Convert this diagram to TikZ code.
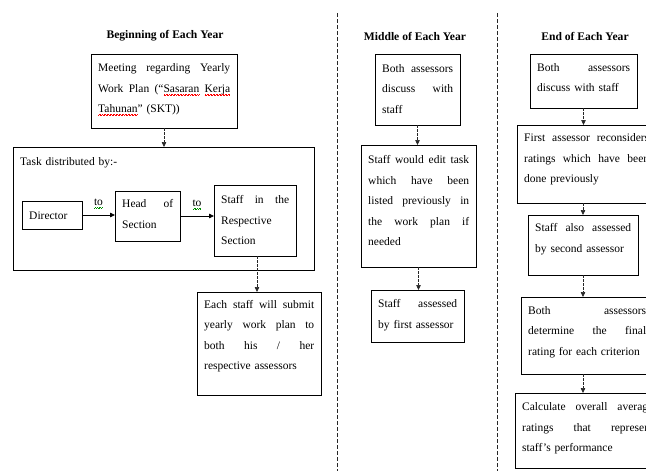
\documentclass[tikz,border=0pt]{standalone}
\usepackage{fontspec}
\setmainfont{Liberation Serif}
\usetikzlibrary{arrows.meta}
\newsavebox\sqbox
\newcommand\sqw[2]{\sbox\sqbox{#2}\mbox{\rlap{\usebox\sqbox}\textcolor{#1}{\xleaders\hbox{\rule[-3.3pt]{0.75pt}{0.6pt}\rule[-2.5pt]{0.75pt}{0.6pt}}\hskip\wd\sqbox}}}
\newcommand\sqr[1]{\sqw{red}{#1}}
\newcommand\sqg[1]{\sqw{green!55!black}{#1}}
\newcommand\J[1]{\leavevmode\hbox to \hsize{\spaceskip=0.25em plus 1fil\relax #1}\\}
\newcommand\pbox[7][17.5]{%
  \pgfmathsetmacro\pw{#5-#3}\pgfmathsetmacro\ph{#6-#4}\pgfmathsetmacro\tw{#5-#3-14}%
  \node[box, minimum width=\pw pt, minimum height=\ph pt] (#2) at ({(#3+#5)/2},{(#4+#6)/2}) {};
  \node[txt, text width=\tw pt] (#2-t) at ({#3+7},{#4+#1}) {#7};
}
\begin{document}
\begin{tikzpicture}[x=1pt,y=-1pt,
  box/.style={draw=black, line width=0.8pt, inner sep=0pt, outer sep=0pt},
  txt/.style={anchor=base west, inner sep=0pt, align=left, font=\fontsize{11.5}{20.5}\selectfont},
  ttl/.style={inner sep=0pt, font=\fontsize{11.6}{13}\selectfont\bfseries},
  darr/.style={draw=black!85, line width=0.6pt, dash pattern=on 2.5pt off 1.5pt, -{Triangle[length=5pt,width=4.5pt]}},
  sarr/.style={draw=black, line width=0.8pt, -{Triangle[length=5pt,width=4.5pt]}},
  sep/.style={draw=black!85, line width=0.7pt, dash pattern=on 4pt off 2pt},
  tolbl/.style={inner sep=0pt, above=6pt, font=\fontsize{11.5}{13}\selectfont}]
\useasboundingbox (0,0) rectangle (646,471);
\clip (0,0) rectangle (646,471);

% separators
\draw[sep] (337,13) -- (337,471);
\draw[sep] (497,13) -- (497,471);

% titles
\node[ttl] (t1) at (165,36) {Beginning of Each Year};
\node[ttl] (t2) at (415,36) {Middle of Each Year};
\node[ttl] (t3) at (585,36) {End of Each Year};

% column 1
\pbox{meet}{91}{54}{237}{128}{\J{Meeting regarding Yearly}\J{Work Plan (“\sqr{Sasaran} \sqr{Kerja}}\sqr{Tahunan}” (SKT))}
\pbox[18.5]{task}{13}{147}{314}{270}{Task distributed by:-}
\pbox[18]{dir}{22}{201}{82}{229}{Director}
\pbox[16.5]{hos}{115}{191}{180}{241}{\J{Head of}Section}
\pbox[18.5]{srs}{214}{185}{296}{256}{\J{Staff in the}Respective\\Section}
\pbox[16]{each}{197}{292}{321}{395}{\J{Each staff will submit}\J{yearly work plan to}\J{both his / her}respective assessors}

\draw[darr] (meet.south) -- (meet.south |- task.north);
\draw[sarr] (dir) -- node[tolbl] (to1) {\sqg{to}} (dir -| hos.west);
\draw[sarr] (hos) -- node[tolbl] (to2) {\sqg{to}} (hos -| srs.west);
\draw[darr] ([xshift=2pt]srs.south) -- ([xshift=2pt]srs.south |- each.north);

% column 2
\pbox[18]{mboth}{375}{54}{460}{125}{\J{Both assessors}\J{discuss with}staff}
\pbox[18.5]{medit}{361}{145}{476}{267}{\J{Staff would edit task}\J{which have been}\J{listed previously in}\J{the work plan if}needed}
\pbox[17.5]{mass}{371}{290}{464}{342}{\J{Staff assessed}by first assessor}

\draw[darr] (mboth.south) -- (mboth.south |- medit.north);
\draw[darr] (medit.south) -- (medit.south |- mass.north);

% column 3
\pbox[17]{eboth}{530}{54}{637}{108}{\J{Both assessors}discuss with staff}
\pbox[16.5]{efirst}{517}{125}{656}{203}{\J{First assessor reconsiders}\J{ratings which have been}done previously}
\pbox[16.5]{estaff}{528}{215}{638}{275}{\J{Staff also assessed}by second assessor}
\pbox[17]{edet}{521}{297}{653}{374}{\J{Both assessors}\J{determine the final}rating for each criterion}
\pbox[17.5]{ecalc}{515}{393}{660}{468}{\J{Calculate overall average}\J{ratings that represent}staff’s performance}

\draw[darr] (eboth.south) -- (eboth.south |- efirst.north);
\draw[darr] (estaff.north |- efirst.south) -- (estaff.north);
\draw[darr] (estaff.south) -- (estaff.south |- edet.north);
\draw[darr] (estaff.south |- edet.south) -- (estaff.south |- ecalc.north);
\end{tikzpicture}
\end{document}
